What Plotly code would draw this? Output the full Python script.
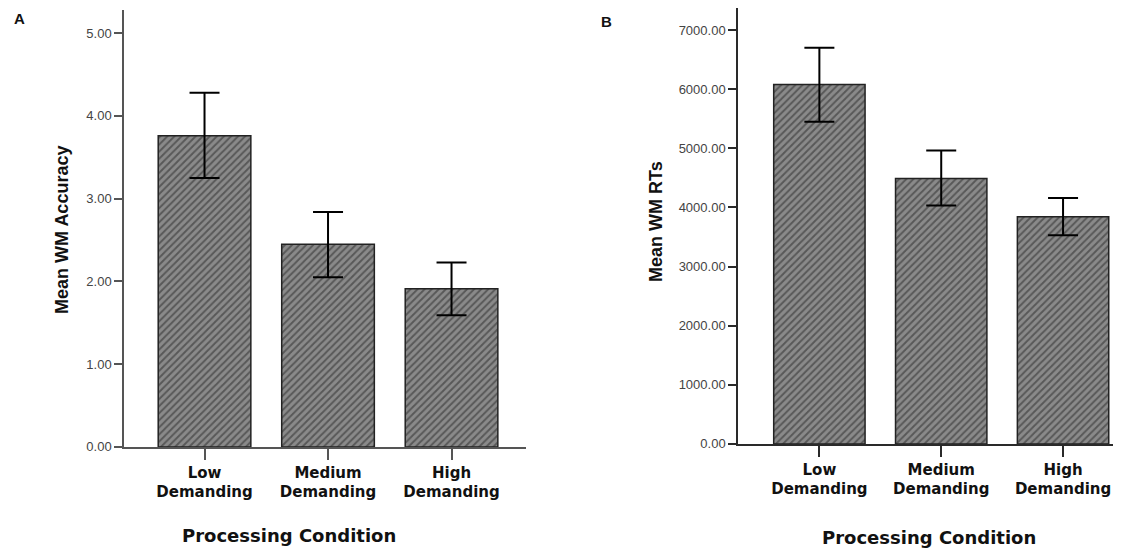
import plotly.graph_objects as go

categories = ["Low<br>Demanding", "Medium<br>Demanding", "High<br>Demanding"]

acc_mean = [3.76, 2.45, 1.91]
acc_upper = [4.28, 2.84, 2.23]
acc_lower = [3.25, 2.05, 1.59]

rt_mean = [6080, 4490, 3840]
rt_upper = [6700, 4960, 4160]
rt_lower = [5450, 4030, 3530]

acc_ticks = [0, 1, 2, 3, 4, 5]
rt_ticks = [0, 1000, 2000, 3000, 4000, 5000, 6000, 7000]

OFF = 8  # page body margin
SY = 548 / 556  # observed vertical scale of the photograph
W, H = 1121 - 2 * OFF, 548

def px_x(p):
    return (p - OFF) / W

def px_y(p):
    return 1 - ((p - OFF) / SY) / H

pattern = dict(shape="/", bgcolor="#8a8a8a", fgcolor="#262626", size=5, solidity=0.4)

fig = go.Figure()

for vals, up, lo, xa, ya in [
    (acc_mean, acc_upper, acc_lower, "x", "y"),
    (rt_mean, rt_upper, rt_lower, "x2", "y2"),
]:
    fig.add_trace(go.Bar(
        x=categories, y=vals, xaxis=xa, yaxis=ya, width=0.75,
        marker=dict(color="#8a8a8a", pattern=pattern, line=dict(color="#222222", width=1.5)),
        error_y=dict(type="data", symmetric=False,
                     array=[u - v for u, v in zip(up, vals)],
                     arrayminus=[v - l for v, l in zip(vals, lo)],
                     color="black", thickness=2, width=15),
        showlegend=False, hoverinfo="skip",
    ))

tickfont_y = dict(family="Liberation Sans, Arial", size=13, color="#444444")
tickfont_x = dict(family="DejaVu Sans", size=15, color="#111111", weight="bold")

def xax(col):
    return dict(type="category", showline=True, linecolor=col, linewidth=1.5,
                ticks="outside", ticklen=11, tickwidth=2, tickcolor=col,
                tickfont=tickfont_x, showgrid=False, zeroline=False, fixedrange=True)

def yax(col):
    return dict(showline=True, linecolor=col, linewidth=1.5,
                ticks="outside", ticklen=8, tickwidth=2, tickcolor=col,
                tickfont=tickfont_y, showgrid=False, zeroline=False, tickformat=".2f")

fig.update_layout(
    width=W, height=H,
    margin=dict(l=0, r=0, t=0, b=0),
    plot_bgcolor="white", paper_bgcolor="white",
    bargap=0.25,
    xaxis=dict(domain=[px_x(124), px_x(526)], range=[-0.652, 2.603], anchor="y", **xax("#555555")),
    yaxis=dict(domain=[px_y(447), px_y(10)], range=[0, 5.28], anchor="x",
               tickvals=acc_ticks, **yax("#555555")),
    xaxis2=dict(domain=[px_x(738), 1.0], range=[-0.668, 2.41], anchor="y2", **xax("#2a2a2a")),
    yaxis2=dict(domain=[px_y(444), px_y(8)], range=[0, 7372], anchor="x2",
                tickvals=rt_ticks, **yax("#2a2a2a")),
)

title_font = dict(family="Liberation Sans, Arial", size=18, color="#111111")
xt_font = dict(family="DejaVu Sans", size=18, color="#111111")
annotations = [
    dict(text="<b>A</b>", x=px_x(19), y=px_y(19), font=dict(family="Liberation Sans", size=15, color="#111")),
    dict(text="<b>B</b>", x=px_x(606), y=px_y(22), font=dict(family="Liberation Sans", size=15, color="#111")),
    dict(text="<b>Mean WM Accuracy</b>", x=px_x(62), y=px_y(230), textangle=-90, font=title_font),
    dict(text="<b>Mean WM RTs</b>", x=px_x(656), y=px_y(222), textangle=-90, font=title_font),
    dict(text="<b>Processing Condition</b>", x=px_x(289), y=px_y(536), font=xt_font),
    dict(text="<b>Processing Condition</b>", x=px_x(929), y=px_y(538), font=xt_font),
]
for a in annotations:
    a.update(xref="paper", yref="paper", showarrow=False, xanchor="center", yanchor="middle")
fig.update_layout(annotations=annotations)

fig.write_html("out.html")
